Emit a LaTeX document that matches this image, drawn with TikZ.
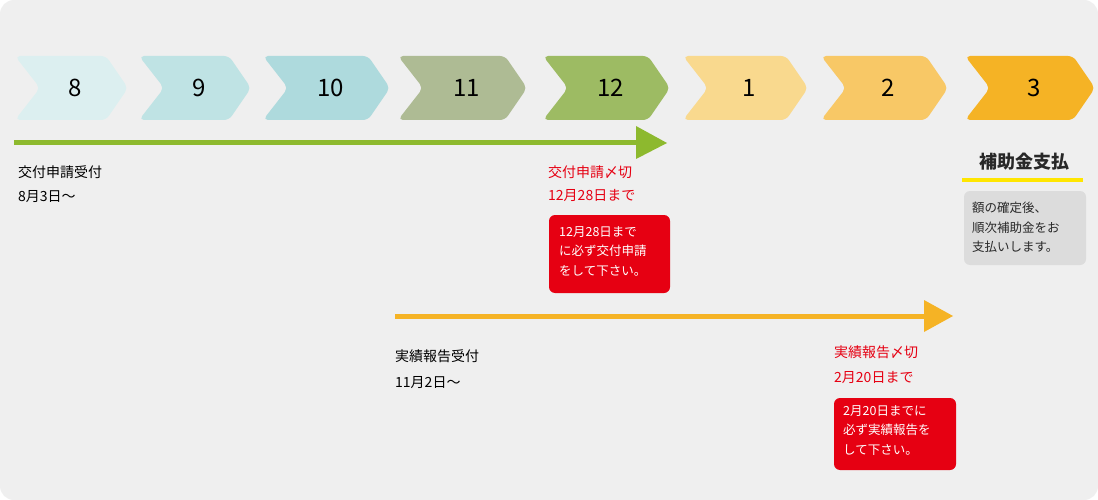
\documentclass[tikz,border=0pt]{standalone}
\usepackage{fontspec}
\setmainfont{Noto Sans CJK JP}
\definecolor{bg}{HTML}{EFEFEF}
\definecolor{redc}{HTML}{E60012}
\definecolor{gr}{HTML}{8DB92E}
\definecolor{og}{HTML}{F5B325}
\definecolor{c8}{HTML}{DCEFF0}
\definecolor{c9}{HTML}{BFE3E4}
\definecolor{c10}{HTML}{AEDADD}
\definecolor{c11}{HTML}{AEBB94}
\definecolor{c12}{HTML}{9DBB63}
\definecolor{c1}{HTML}{F9D98E}
\definecolor{c2}{HTML}{F8C866}
\definecolor{c3}{HTML}{F5B325}
\definecolor{gbox}{HTML}{DCDCDC}
\definecolor{ylw}{HTML}{FFE600}
\definecolor{dk}{HTML}{282828}
\begin{document}
\begin{tikzpicture}[x=1pt,y=-1pt,
  num/.style={font=\fontsize{24}{26}\selectfont},
  lbl/.style={anchor=west,inner sep=0,font=\fontsize{14}{16}\selectfont},
  red/.style={lbl,text=redc},
  box/.style={rounded corners=6pt,inner sep=0},
  btxt/.style={anchor=north west,inner sep=0,align=left,font=\fontsize{12.5}{19.5}\selectfont}]
\useasboundingbox (0,0) rectangle (1098,500);
\fill[bg,rounded corners=14pt] (0,0) rectangle (1098,500);
\def\chev#1#2#3#4#5{%
  \fill[#3,rounded corners=5pt] (#1,56) -- (#2-22,56) -- (#2,88) -- (#2-22,120) -- (#1,120) -- (#1+25,88) -- cycle;
  \node[num] (#5) at ({(#1+#2)/2+4},88) {#4};}
\chev{15}{128}{c8}{8}{m8}
\chev{139}{251}{c9}{9}{m9}
\chev{263}{390}{c10}{10}{m10}
\chev{398}{527}{c11}{11}{m11}
\chev{543}{670}{c12}{12}{m12}
\chev{683}{808}{c1}{1}{m1}
\chev{821}{948}{c2}{2}{m2}
\chev{965}{1095}{c3}{3}{m3}
\coordinate (g1) at (14,143); \coordinate (g2) at (638,143);
\draw[gr,line width=5pt] (g1) -- (g2);
\fill[gr] (636,126) -- (667,143) -- (636,159) -- cycle;
\coordinate (o1) at (395,316); \coordinate (o2) at (926,316);
\draw[og,line width=5pt] (o1) -- (o2);
\fill[og] (924,300) -- (953,316) -- (924,332) -- cycle;
\node[lbl] (t1) at (18,172) {交付申請受付};
\node[lbl] (t2) at (18,197) {8月3日〜};
\node[red] (r1) at (548,172) {交付申請〆切};
\node[red] (r2) at (548,196) {12月28日まで};
\fill[redc,box] (549,215) rectangle (670,293);
\node[btxt,text=white] (rb1) at (559,226) {12月28日まで\\に必ず交付申請\\をして下さい。};
\node[lbl] (t3) at (395,356) {実績報告受付};
\node[lbl] (t4) at (395,383) {11月2日〜};
\node[red] (r3) at (834,352) {実績報告〆切};
\node[red] (r4) at (834,378) {2月20日まで};
\fill[redc,box] (834,398) rectangle (956,470);
\node[btxt,text=white] (rb2) at (843,405) {2月20日までに\\必ず実績報告を\\して下さい。};
\node[inner sep=0,text=dk,font=\fontsize{18}{20}\selectfont\bfseries] (h) at (1024,162) {補助金支払};
\draw[ylw,line width=3.5pt] (962,180) -- (1083,180);
\fill[gbox,box] (964,191) rectangle (1086,265);
\node[btxt,text=dk] (gb) at (972,202) {額の確定後、\\順次補助金をお\\支払いします。};
\end{tikzpicture}
\end{document}
